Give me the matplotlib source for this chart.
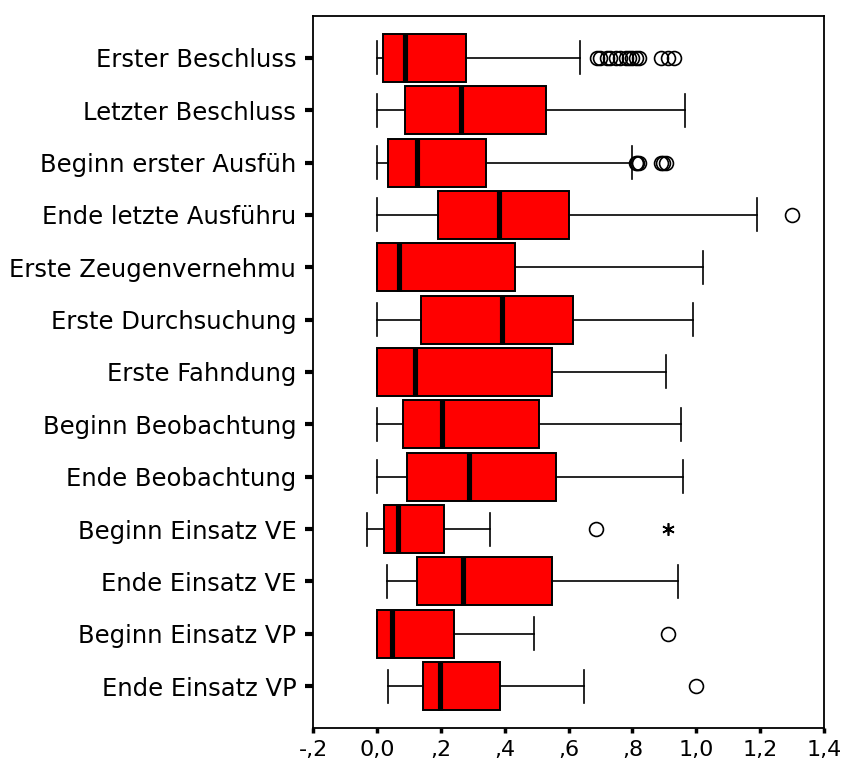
import matplotlib.pyplot as plt

# Daten
labels = ['Erster Beschluss', 'Letzter Beschluss', 'Beginn erster Ausfüh',
          'Ende letzte Ausführu', 'Erste Zeugenvernehmu', 'Erste Durchsuchung',
          'Erste Fahndung', 'Beginn Beobachtung', 'Ende Beobachtung',
          'Beginn Einsatz VE', 'Ende Einsatz VE', 'Beginn Einsatz VP',
          'Ende Einsatz VP']
whislo = [0.0, 0.0, 0.0, 0.0, 0.0, 0.0, 0.0, 0.0, 0.0, -0.031, 0.031, 0.0, 0.035]
q1 = [0.019, 0.088, 0.035, 0.19, 0.0, 0.138, 0.0, 0.082, 0.094, 0.022, 0.126, 0.0, 0.144]
med = [0.088, 0.264, 0.126, 0.383, 0.069, 0.392, 0.119, 0.204, 0.289, 0.066, 0.27, 0.047, 0.198]
q3 = [0.279, 0.53, 0.342, 0.6, 0.433, 0.615, 0.549, 0.508, 0.562, 0.21, 0.549, 0.242, 0.386]
whishi = [0.637, 0.964, 0.80, 1.19, 1.02, 0.99, 0.904, 0.951, 0.957, 0.355, 0.942, 0.493, 0.65]
ausreisser = [
    [0.69, 0.70, 0.72, 0.73, 0.75, 0.76, 0.78, 0.79, 0.80, 0.81, 0.82, 0.89, 0.91, 0.93],
    [],
    [0.81, 0.815, 0.82, 0.89, 0.895, 0.905],
    [1.30],
    [], [], [], [], [],
    [0.687],
    [],
    [0.91],
    [1.0],
]
extreme_zeile = [10]
extreme_wert = [0.913]
xticks = [-0.2, 0.0, 0.2, 0.4, 0.6, 0.8, 1.0, 1.2, 1.4]
xticklabels = ['-,2', '0,0', ',2', ',4', ',6', ',8', '1,0', '1,2', '1,4']

plt.rcParams['font.family'] = ['DejaVu Sans']

stats = []
for i in range(len(labels)):
    stats.append(dict(label=labels[i], whislo=whislo[i], q1=q1[i], med=med[i],
                      q3=q3[i], whishi=whishi[i], fliers=ausreisser[i]))
pos = list(range(1, len(labels) + 1))

fig = plt.figure(figsize=(8.41, 7.65), dpi=100)
ax = fig.add_axes([0.3722, 0.0484, 0.6076, 0.9307])

ax.bxp(stats, positions=pos, orientation='horizontal', widths=0.917,
       capwidths=0.63, patch_artist=True, manage_ticks=False,
       boxprops=dict(facecolor='#ff0000', edgecolor='black', linewidth=1.4),
       medianprops=dict(color='black', linewidth=3.7, solid_capstyle='butt'),
       whiskerprops=dict(color='black', linewidth=1.2),
       capprops=dict(color='black', linewidth=1.2),
       flierprops=dict(marker='o', markerfacecolor='none', markeredgecolor='black',
                       markersize=10, markeredgewidth=1.2))

# Extremwerte als Sternchen
ax.plot(extreme_wert, extreme_zeile, linestyle='none', marker=(6, 2, 0),
        markersize=9, markeredgewidth=1.2, color='black')

ax.set_xlim(-0.2, 1.4)
ax.set_ylim(13.8, 0.2)
ax.set_xticks(xticks, xticklabels)
ax.set_yticks(pos, labels)
ax.tick_params(axis='y', length=6, width=3, pad=6, labelsize=17.5)
ax.tick_params(axis='x', length=3.5, width=2.5, pad=5, labelsize=16)
for s in ax.spines.values():
    s.set_linewidth(1.3)

plt.savefig('out.png', dpi=100)
